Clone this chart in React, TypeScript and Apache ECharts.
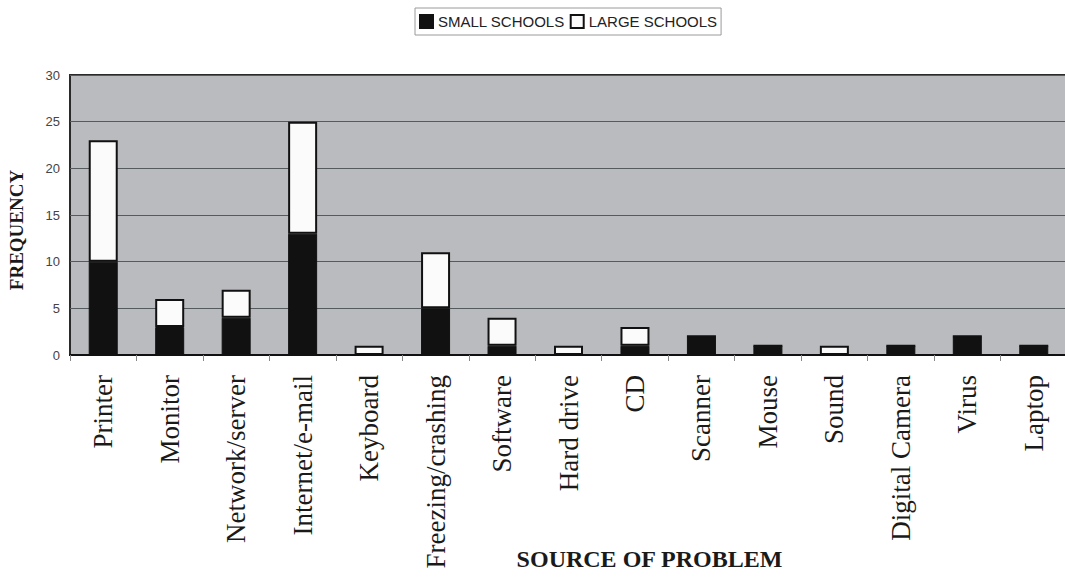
import React, { useEffect, useRef } from "react";
import * as echarts from "echarts";

const categories = [
  "Printer",
  "Monitor",
  "Network/server",
  "Internet/e-mail",
  "Keyboard",
  "Freezing/crashing",
  "Software",
  "Hard drive",
  "CD",
  "Scanner",
  "Mouse",
  "Sound",
  "Digital Camera",
  "Virus",
  "Laptop",
];

const smallSchools = [10, 3, 4, 13, 0, 5, 1, 0, 1, 2, 1, 0, 1, 2, 1];
const largeSchools = [13, 3, 3, 12, 1, 6, 3, 1, 2, 0, 0, 1, 0, 0, 0];

const yTicks = { min: 0, max: 30, interval: 5 };

const serif = "Liberation Serif, Times New Roman, serif";
const sans = "Liberation Sans, Arial, sans-serif";

export default function App() {
  const ref = useRef<HTMLDivElement>(null);

  useEffect(() => {
    document.body.style.margin = "0";
    if (!ref.current) return;
    const chart = echarts.init(ref.current, undefined, { renderer: "svg" });
    chart.setOption({
      animation: false,
      backgroundColor: "#ffffff",
      legend: {
        top: 8,
        left: 415,
        icon: "rect",
        itemWidth: 13,
        itemHeight: 13,
        itemGap: 5,
        padding: [6, 4, 6, 4],
        backgroundColor: "#ffffff",
        borderColor: "#9a9a9a",
        borderWidth: 1,
        textStyle: { fontFamily: sans, fontSize: 15, color: "#222" },
        data: ["SMALL SCHOOLS", "LARGE SCHOOLS"],
      },
      grid: {
        left: 70,
        top: 75,
        right: -2,
        bottom: 224,
        containLabel: false,
        outerBoundsMode: "none",
        show: true,
        backgroundColor: "#b9bbbe",
        borderColor: "#2a2a2a",
        borderWidth: 2,
      },
      xAxis: {
        type: "category",
        data: categories,
        name: "SOURCE OF PROBLEM",
        nameLocation: "middle",
        nameGap: 192,
        nameMoveOverlap: false,
        nameTextStyle: {
          fontFamily: serif,
          fontWeight: "bold",
          fontSize: 24,
          color: "#1a1a1a",
          padding: [0, 0, 0, 162],
        },
        axisLine: { show: true, lineStyle: { color: "#111", width: 2 } },
        axisTick: { show: true, interval: 0, length: 6, lineStyle: { color: "#888" } },
        axisLabel: {
          interval: 0,
          rotate: 90,
          margin: 20,
          fontFamily: serif,
          fontSize: 27,
          color: "#1a1a1a",
        },
      },
      yAxis: {
        type: "value",
        min: yTicks.min,
        max: yTicks.max,
        interval: yTicks.interval,
        name: "FREQUENCY",
        nameLocation: "middle",
        nameGap: 44,
        nameMoveOverlap: false,
        nameTextStyle: {
          fontFamily: serif,
          fontWeight: "bold",
          fontSize: 19,
          color: "#1a1a1a",
          padding: [0, 30, 0, 0],
        },
        axisLine: { show: false },
        axisTick: { show: false },
        axisLabel: {
          margin: 10,
          fontFamily: sans,
          fontSize: 13,
          color: "#444",
        },
        splitLine: { show: true, lineStyle: { color: "#555a5e", width: 1 } },
      },
      series: [
        {
          name: "SMALL SCHOOLS",
          type: "bar",
          stack: "total",
          barWidth: 29,
          data: smallSchools,
          itemStyle: { color: "#111111", borderColor: "#111111", borderWidth: 1 },
        },
        {
          name: "LARGE SCHOOLS",
          type: "bar",
          stack: "total",
          barWidth: 29,
          data: largeSchools,
          itemStyle: { color: "#fbfbfb", borderColor: "#111111", borderWidth: 2 },
        },
      ],
    });
    return () => chart.dispose();
  }, []);

  return <div ref={ref} style={{ width: 1065, height: 579 }} />;
}
